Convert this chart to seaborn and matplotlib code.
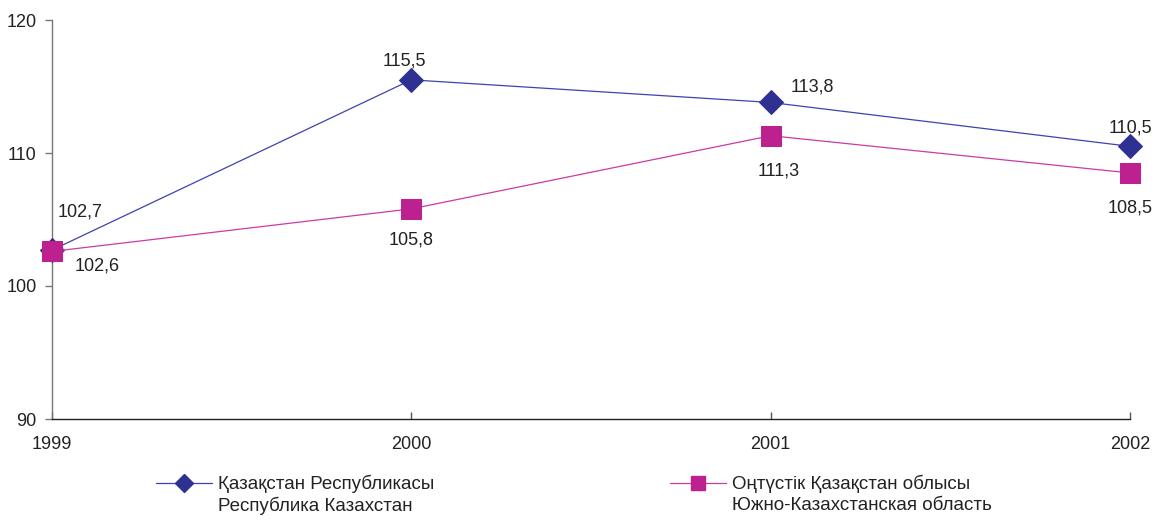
import matplotlib
matplotlib.use("Agg")
import matplotlib.pyplot as plt
import seaborn as sns
import pandas as pd
from matplotlib.lines import Line2D

years = [1999, 2000, 2001, 2002]
kz_values = [102.7, 115.5, 113.8, 110.5]
sk_values = [102.6, 105.8, 111.3, 108.5]
kz_name = ["Қазақстан Республикасы", "Республика Казахстан"]
sk_name = ["Оңтүстік Қазақстан облысы", "Южно-Казахстанская область"]
kz_labels = ["102,7", "115,5", "113,8", "110,5"]
sk_labels = ["102,6", "105,8", "111,3", "108,5"]
y_ticks = [90, 100, 110, 120]

sns.set_theme(style="white")
plt.rcParams['font.family'] = ['Liberation Sans', 'DejaVu Sans']

s1 = "\n".join(kz_name)
s2 = "\n".join(sk_name)
df = pd.DataFrame({
    "year": years * 2,
    "value": kz_values + sk_values,
    "series": [s1] * 4 + [s2] * 4,
})

W, H = 1158, 520
fig = plt.figure(figsize=(W / 100, H / 100), dpi=100)
ax = fig.add_axes([52 / W, 1 - 419 / H, (1130 - 52) / W, (419 - 20) / H])

blue = "#2E3192"
pink = "#BD2190"
blue_line = "#3f42b0"
pink_line = "#cc3aa3"
sns.lineplot(data=df, x="year", y="value", hue="series", style="series",
             palette={s1: blue, s2: pink},
             markers={s1: "D", s2: "s"},
             dashes=False, ax=ax, legend=False, linewidth=0.9)
l1, l2 = ax.lines[0], ax.lines[1]
l1.set_color(blue_line); l1.set_markerfacecolor(blue); l1.set_markeredgecolor(blue)
l1.set_markersize(12)
l2.set_color(pink_line); l2.set_markerfacecolor(pink); l2.set_markeredgecolor(pink)
l2.set_markersize(15)
for l in (l1, l2):
    l.set_clip_on(False)
    l.set_zorder(5)

ax.set_xlim(1999, 2002)
ax.set_ylim(90, 120)
ax.set_xticks(years)
ax.set_xticklabels([str(y) for y in years])
ax.set_yticks(y_ticks)
ax.set_xlabel("")
ax.set_ylabel("")
for s in ["top", "right"]:
    ax.spines[s].set_visible(False)
ax.spines["left"].set_color("#777777")
ax.spines["bottom"].set_color("#222222")
ax.spines["left"].set_linewidth(1.0)
ax.spines["bottom"].set_linewidth(1.0)
ax.tick_params(axis="y", left=True, direction="out", length=5, width=1,
               color="#777777", labelsize=13, labelcolor="#222222", pad=6)
ax.tick_params(axis="x", bottom=True, direction="in", length=5, width=1,
               color="#555555", labelsize=13, labelcolor="#222222", pad=12)
ax.set_facecolor("white")

kz_off = [(28, 38), (-7, 19), (42, 15), (0, 18)]
sk_off = [(45, -15), (0, -31), (8, -35), (0, -35)]
for x, y, t, o in zip(years, kz_values, kz_labels, kz_off):
    ax.annotate(t, (x, y), xytext=o, textcoords="offset pixels",
                ha="center", va="center", fontsize=13, color="#222222")
for x, y, t, o in zip(years, sk_values, sk_labels, sk_off):
    ax.annotate(t, (x, y), xytext=o, textcoords="offset pixels",
                ha="center", va="center", fontsize=13, color="#222222")

# legend: handle on first line, second line placed under it
h1 = Line2D([], [], color=blue_line, lw=0.9, marker="D", markersize=9,
            markerfacecolor=blue, markeredgecolor=blue)
h2 = Line2D([], [], color=pink_line, lw=0.9, marker="s", markersize=10,
            markerfacecolor=pink, markeredgecolor=pink)
legs = []
for h, name, x0 in ((h1, kz_name, 156), (h2, sk_name, 670)):
    leg = fig.legend([h], [name[0]], loc="center left",
                     bbox_to_anchor=(x0 / W, 1 - 484 / H), frameon=False,
                     fontsize=13.5, handlelength=3.0, handletextpad=0.3,
                     borderaxespad=0, borderpad=0)
    for t in leg.get_texts():
        t.set_color("#222222")
    legs.append((leg, name))

fig.canvas.draw()
inv = fig.transFigure.inverted()
for leg, name in legs:
    bb = leg.get_texts()[0].get_window_extent()
    x_fig, y_fig = inv.transform((bb.x0, (bb.y0 + bb.y1) / 2))
    fig.text(x_fig, y_fig - 22 / H, name[1], ha="left", va="center",
             fontsize=13.5, color="#222222")

fig.savefig("out.png", dpi=100, facecolor="white")
